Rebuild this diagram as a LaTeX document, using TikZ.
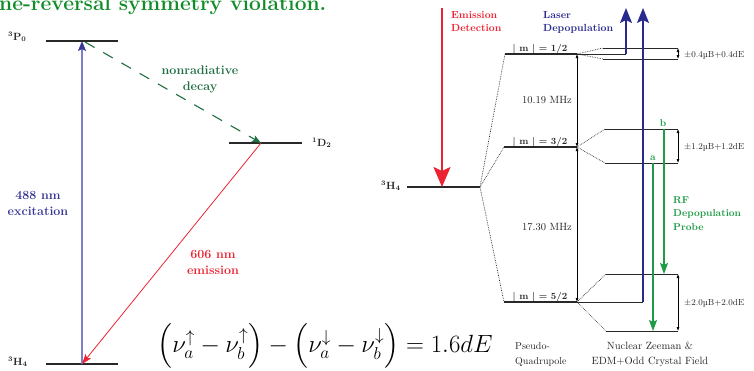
\documentclass[tikz,border=0pt]{standalone}
\usepackage{amsmath}
\usetikzlibrary{arrows.meta}
\definecolor{titlegreen}{RGB}{16,140,40}
\definecolor{decaygreen}{RGB}{30,110,65}
\definecolor{excblue}{RGB}{55,55,150}
\definecolor{exclight}{RGB}{125,125,200}
\definecolor{emitred}{RGB}{235,35,50}
\definecolor{depblue}{RGB}{40,42,140}
\definecolor{rfgreen}{RGB}{30,155,70}
\definecolor{lvlgray}{RGB}{40,40,40}
\definecolor{txtgray}{RGB}{35,35,35}
\begin{document}
\begin{tikzpicture}[x=1pt,y=-1pt,
  level/.style={line width=1.3pt, draw=lvlgray},
  sublevel/.style={line width=1pt, draw=lvlgray},
  fan/.style={densely dotted, line width=0.7pt, draw=lvlgray},
  lbl/.style={inner sep=0pt, anchor=base west, font=\fontsize{10.5}{12}\selectfont\bfseries, text=lvlgray},
  bigl/.style={inner sep=0pt, font=\fontsize{12.5}{16}\selectfont\bfseries, align=center},
  rlbl/.style={inner sep=0pt, font=\fontsize{10.3}{13}\selectfont\bfseries, align=left},
  small/.style={inner sep=0pt, anchor=base west, font=\fontsize{8.8}{10}\selectfont, text=txtgray},
  gap/.style={{Latex[length=4pt,width=3pt]}-{Latex[length=4pt,width=3pt]}, line width=0.6pt, draw=black},
  deparrow/.style={-{Stealth[length=15pt,width=12pt,inset=3pt]}, line width=1.6pt, draw=depblue},
  rfarrow/.style={-{Stealth[length=11pt,width=8pt,inset=2pt]}, line width=1.1pt, draw=rfgreen}
]
\useasboundingbox (0,0) rectangle (754,370);

% title
\node[inner sep=0pt, anchor=base west, font=\fontsize{21}{24}\selectfont\bfseries, text=titlegreen] (title) at (-1,10) {ne-reversal symmetry violation.};

% ---------- left diagram ----------
\coordinate (P0l) at (46,41);  \coordinate (P0r) at (118,41);
\coordinate (D2l) at (229,143); \coordinate (D2r) at (302,143);
\coordinate (H4l) at (46,364); \coordinate (H4r) at (118,364);
\draw[level] (P0l) -- (P0r);
\draw[level] (D2l) -- (D2r);
\draw[level] (H4l) -- (H4r);
\node[lbl] (P0lab) at (8,40) {$^{\mathbf{3}}$P$_{\mathbf{0}}$};
\node[lbl] (D2lab) at (312,146) {$^{\mathbf{1}}$D$_{\mathbf{2}}$};
\node[lbl] (H4lab) at (8,365) {$^{\mathbf{3}}$H$_{\mathbf{4}}$};

\coordinate (exB) at (82,364); \coordinate (exT) at (82,41);
\coordinate (decS) at (85,42); \coordinate (Dmid) at (261,143);
\draw[line width=1.2pt, draw=exclight, -{Stealth[length=10pt,width=8pt,inset=2pt,color=excblue]}] (exB) -- (exT);
\draw[line width=1.1pt, draw=decaygreen, dash pattern=on 11pt off 10pt, -{Stealth[length=9pt,width=7pt,inset=2pt]}] (decS) -- (Dmid);
\draw[line width=0.8pt, draw=emitred, -{Stealth[length=10pt,width=7pt,inset=2pt]}] (Dmid) -- (exB);

\node[bigl, text=excblue, anchor=base] (exclab) at (38,215) {488 nm\\excitation};
\node[bigl, text=decaygreen, anchor=base] (declab) at (200,90) {nonradiative\\decay};
\node[bigl, text=emitred, anchor=base] (emilab) at (213,274) {606 nm\\emission};

\node[inner sep=0pt, anchor=base, font=\fontsize{24}{28}\selectfont] (eq) at (325,352)
  {$\left(\nu_a^{\uparrow}-\nu_b^{\uparrow}\right)-\left(\nu_a^{\downarrow}-\nu_b^{\downarrow}\right)=1.6dE$};

% ---------- right diagram ----------
\coordinate (RHl) at (407,187); \coordinate (RHr) at (480,187);
\draw[level] (RHl) -- (RHr);
\node[lbl] (RHlab) at (381,189) {$^{\mathbf{3}}$H$_{\mathbf{4}}$};

\coordinate (m1l) at (505,54); \coordinate (m1r) at (577,54); \coordinate (m1x) at (626,54);
\coordinate (m3l) at (504,147); \coordinate (m3r) at (577,147);
\coordinate (m5l) at (504,302); \coordinate (m5r) at (577,302); \coordinate (m5x) at (643,302);
\draw[level] (m1l) -- (m1r);
\draw[sublevel] (m1r) -- (m1x);
\draw[level] (m3l) -- (m3r);
\draw[level] (m5l) -- (m5r);
\draw[sublevel] (m5r) -- (m5x);
\draw[fan] (RHr) -- (m1l);
\draw[fan] (RHr) -- (m3l);
\draw[fan] (RHr) -- (m5l);

\node[inner sep=0pt, anchor=base, font=\fontsize{9.5}{11}\selectfont\bfseries, text=lvlgray] (m1lab) at (540,51) {| m | = 1/2};
\node[inner sep=0pt, anchor=base, font=\fontsize{9.5}{11}\selectfont\bfseries, text=lvlgray] (m3lab) at (540,144) {| m | = 3/2};
\node[inner sep=0pt, anchor=base, font=\fontsize{9.5}{11}\selectfont\bfseries, text=lvlgray] (m5lab) at (540,299) {| m | = 5/2};

\draw[gap] (m3r) -- (m1r);
\draw[gap] (m5r) -- (m3r);
\node[inner sep=0pt, anchor=base east, font=\fontsize{10.5}{12}\selectfont, text=txtgray] (f1) at (572,103) {10.19 MHz};
\node[inner sep=0pt, anchor=base east, font=\fontsize{10.5}{12}\selectfont, text=txtgray] (f2) at (572,230) {17.30 MHz};

% sublevels
\coordinate (s1ul) at (603,48); \coordinate (s1ur) at (678,48);
\coordinate (s1dl) at (603,59); \coordinate (s1dr) at (678,59);
\coordinate (s3ul) at (605,129); \coordinate (s3ur) at (678,129);
\coordinate (s3dl) at (605,163); \coordinate (s3dr) at (678,163);
\coordinate (s5ul) at (606,274); \coordinate (s5ur) at (678,274);
\coordinate (s5dl) at (606,331); \coordinate (s5dr) at (678,331);
\foreach \a/\b in {s1ul/s1ur,s1dl/s1dr,s3ul/s3ur,s3dl/s3dr,s5ul/s5ur,s5dl/s5dr}
  \draw[sublevel] (\a) -- (\b);
\foreach \c in {s1ul,s1dl}
  \draw[fan] (m1r) -- (\c);
\foreach \c in {s3ul,s3dl}
  \draw[fan] (m3r) -- (\c);
\foreach \c in {s5ul,s5dl}
  \draw[fan] (m5r) -- (\c);
\draw[gap] (s1ur) -- (s1dr);
\draw[gap] (s3ur) -- (s3dr);
\draw[gap] (s5ur) -- (s5dr);
\node[small] (z1) at (684,57) {$\pm$0.4µB+0.4dE};
\node[small] (z3) at (684,149) {$\pm$1.2µB+1.2dE};
\node[small] (z5) at (684,305) {$\pm$2.0µB+2.0dE};

% emission detection
\coordinate (edT) at (442,8); \coordinate (edB) at (442,187);
\draw[line width=2pt, draw=emitred, -{Stealth[length=20pt,width=17pt,inset=4pt]}] (edT) -- (edB);
\node[rlbl, text=emitred, anchor=base west] (edlab) at (451,31) {Emission\\Detection};

% laser depopulation
\coordinate (ld1) at (626,8); \coordinate (ld2) at (643,8);
\draw[deparrow] (m1x) -- (ld1);
\draw[deparrow] (m5x) -- (ld2);
\node[rlbl, text=depblue, anchor=base west] (ldlab) at (543,31) {Laser\\Depopulation};

% RF probe
\coordinate (bT) at (664,129); \coordinate (bB) at (664,274);
\coordinate (aT) at (653,163); \coordinate (aB) at (653,331);
\draw[rfarrow] (bT) -- (bB);
\draw[rfarrow] (aT) -- (aB);
\node[inner sep=0pt, anchor=base, font=\fontsize{10}{12}\selectfont\bfseries, text=rfgreen] (blab) at (663,126) {b};
\node[inner sep=0pt, anchor=base, font=\fontsize{10}{12}\selectfont\bfseries, text=rfgreen] (alab) at (653,160) {a};
\node[rlbl, text=rfgreen, anchor=base west, font=\fontsize{10}{13.5}\selectfont\bfseries] (rflab) at (673,230) {RF\\Depopulation\\Probe};

% bottom labels
\node[inner sep=0pt, anchor=base west, align=left, font=\fontsize{10}{15}\selectfont, text=txtgray] (pq) at (515,364) {Pseudo-\\Quadrupole};
\node[inner sep=0pt, anchor=base, align=center, font=\fontsize{10.5}{15}\selectfont, text=txtgray] (nz) at (650,364) {Nuclear Zeeman \&\\EDM+Odd Crystal Field};
\end{tikzpicture}
\end{document}
